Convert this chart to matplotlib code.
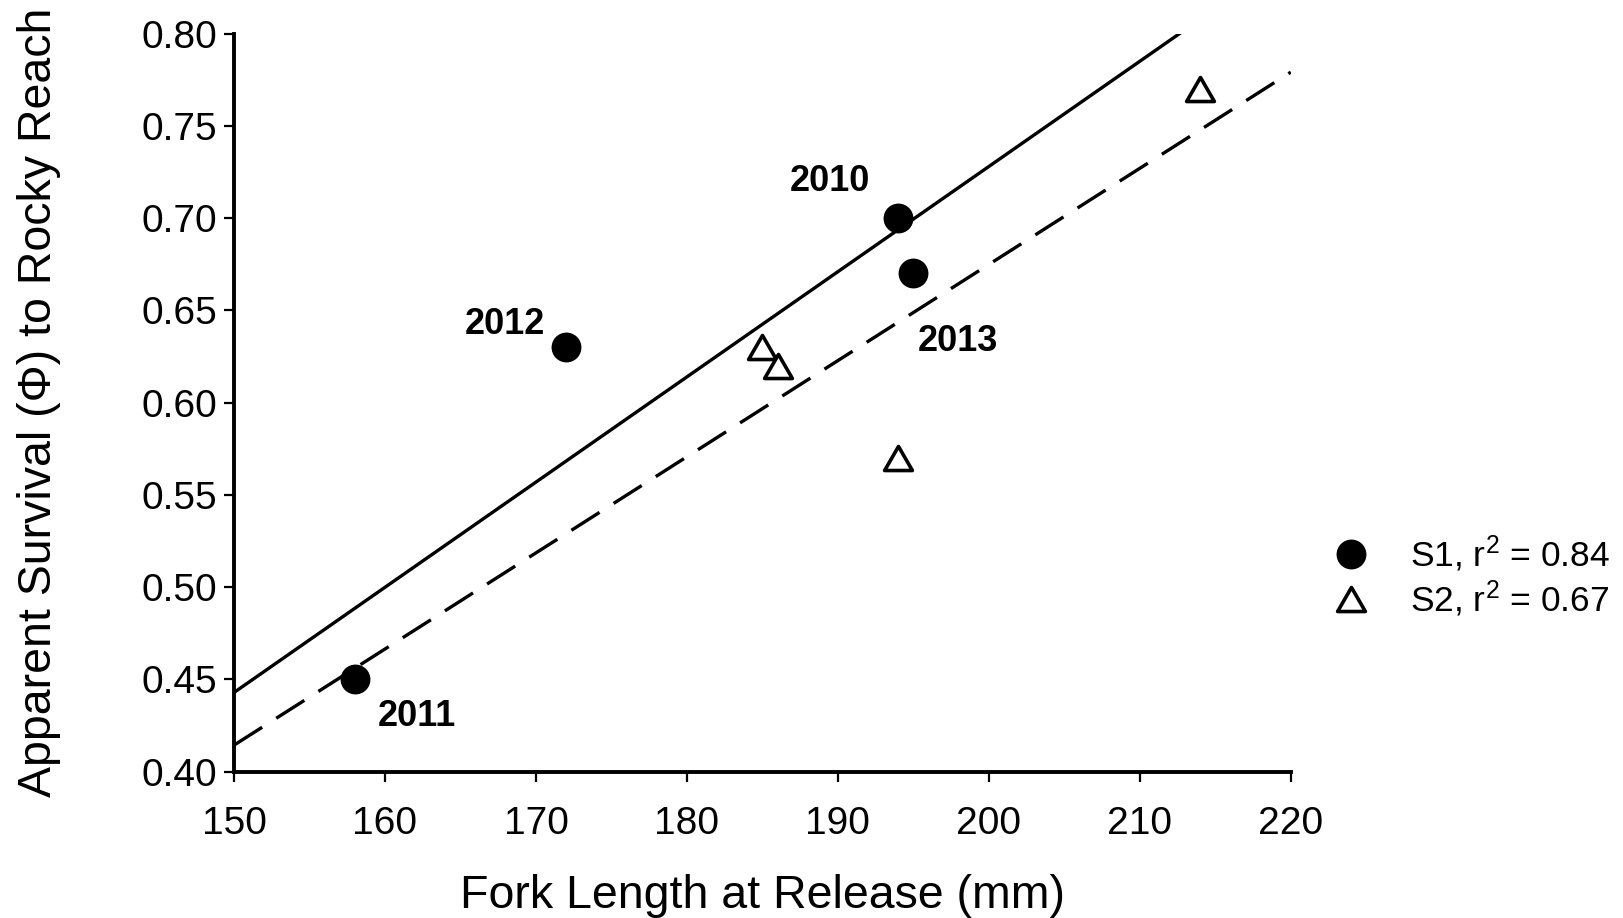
import numpy as np
import matplotlib
matplotlib.use("Agg")
import matplotlib.pyplot as plt
from matplotlib.path import Path

# ---- data ----
s1_x = [194, 158, 172, 195]
s1_y = [0.70, 0.45, 0.63, 0.67]
s1_years = ["2010", "2011", "2012", "2013"]
s2_x = [185, 186, 194, 214]
s2_y = [0.63, 0.62, 0.57, 0.77]
s1_label = r"S1, r$^{2}$ = 0.84"
s2_label = r"S2, r$^{2}$ = 0.67"
x_ticks = [150, 160, 170, 180, 190, 200, 210, 220]
y_ticks = [0.40, 0.45, 0.50, 0.55, 0.60, 0.65, 0.70, 0.75, 0.80]

plt.rcParams['font.family'] = ['Liberation Sans', 'DejaVu Sans']
plt.rcParams['mathtext.fontset'] = 'custom'
plt.rcParams['mathtext.rm'] = 'Liberation Sans'
plt.rcParams['mathtext.it'] = 'Liberation Sans'

fig = plt.figure(figsize=(16.23, 9.18), dpi=100)
ax = fig.add_axes([0.1442, 0.1594, 0.6511, 0.8041])

# trend lines (least squares fits of each series)
xl = np.array([150, 220])
p1 = np.polyfit(s1_x, s1_y, 1)
p2 = np.polyfit(s2_x, s2_y, 1)
ax.plot(xl, np.polyval(p1, xl), color='black', lw=2.4, solid_capstyle='butt', zorder=2)
ax.plot(xl, np.polyval(p2, xl), color='black', lw=2.4, linestyle=(0, (10, 5)),
        dash_capstyle='butt', zorder=2)

tri = Path([(-1, -0.866), (1, -0.866), (0, 0.866), (-1, -0.866)],
           [Path.MOVETO, Path.LINETO, Path.LINETO, Path.CLOSEPOLY])

h1, = ax.plot(s1_x, s1_y, linestyle='none', marker='o', markersize=21.5,
              markerfacecolor='black', markeredgewidth=0, color='black', zorder=3,
              label=s1_label)
h2, = ax.plot(s2_x, s2_y, linestyle='none', marker=tri, markersize=20,
              markerfacecolor='white', markeredgecolor='black', markeredgewidth=2.6,
              zorder=3, label=s2_label)

offsets = {"2010": (-49, 26.5), "2011": (45, -26.7), "2012": (-44, 16.3), "2013": (32, -49)}
for x, y, yr in zip(s1_x, s1_y, s1_years):
    ax.annotate(yr, (x, y), xytext=offsets[yr], textcoords='offset points',
                ha='center', va='center', fontsize=26, fontweight='bold')

ax.set_xlim(150, 220)
ax.set_ylim(0.40, 0.80)
ax.set_xticks(x_ticks)
ax.set_yticks(y_ticks)
ax.set_yticklabels([f"{v:.2f}" for v in y_ticks])
ax.set_xticklabels([str(v) for v in x_ticks])
for s in ['top', 'right']:
    ax.spines[s].set_visible(False)
for s in ['left', 'bottom']:
    ax.spines[s].set_linewidth(2.8)
ax.tick_params(axis='both', direction='out', length=7, width=1.6, labelsize=28)
ax.tick_params(axis='y', pad=5)
ax.tick_params(axis='x', pad=18)

ax.set_xlabel("Fork Length at Release (mm)", fontsize=33.5, va='center')
ax.xaxis.set_label_coords(0.5, -0.168)
ax.set_ylabel("Apparent Survival (Φ) to Rocky Reach", fontsize=33.5, va='center')
ax.yaxis.set_label_coords(-0.185, 0.5)

fig.legend(handles=[h1, h2], loc='center left', bbox_to_anchor=(0.8195, 0.372),
           frameon=False, fontsize=25.5, handlelength=1.2, handletextpad=1.05,
           labelspacing=0.12, borderpad=0, borderaxespad=0)

fig.savefig("out.png", dpi=100)
